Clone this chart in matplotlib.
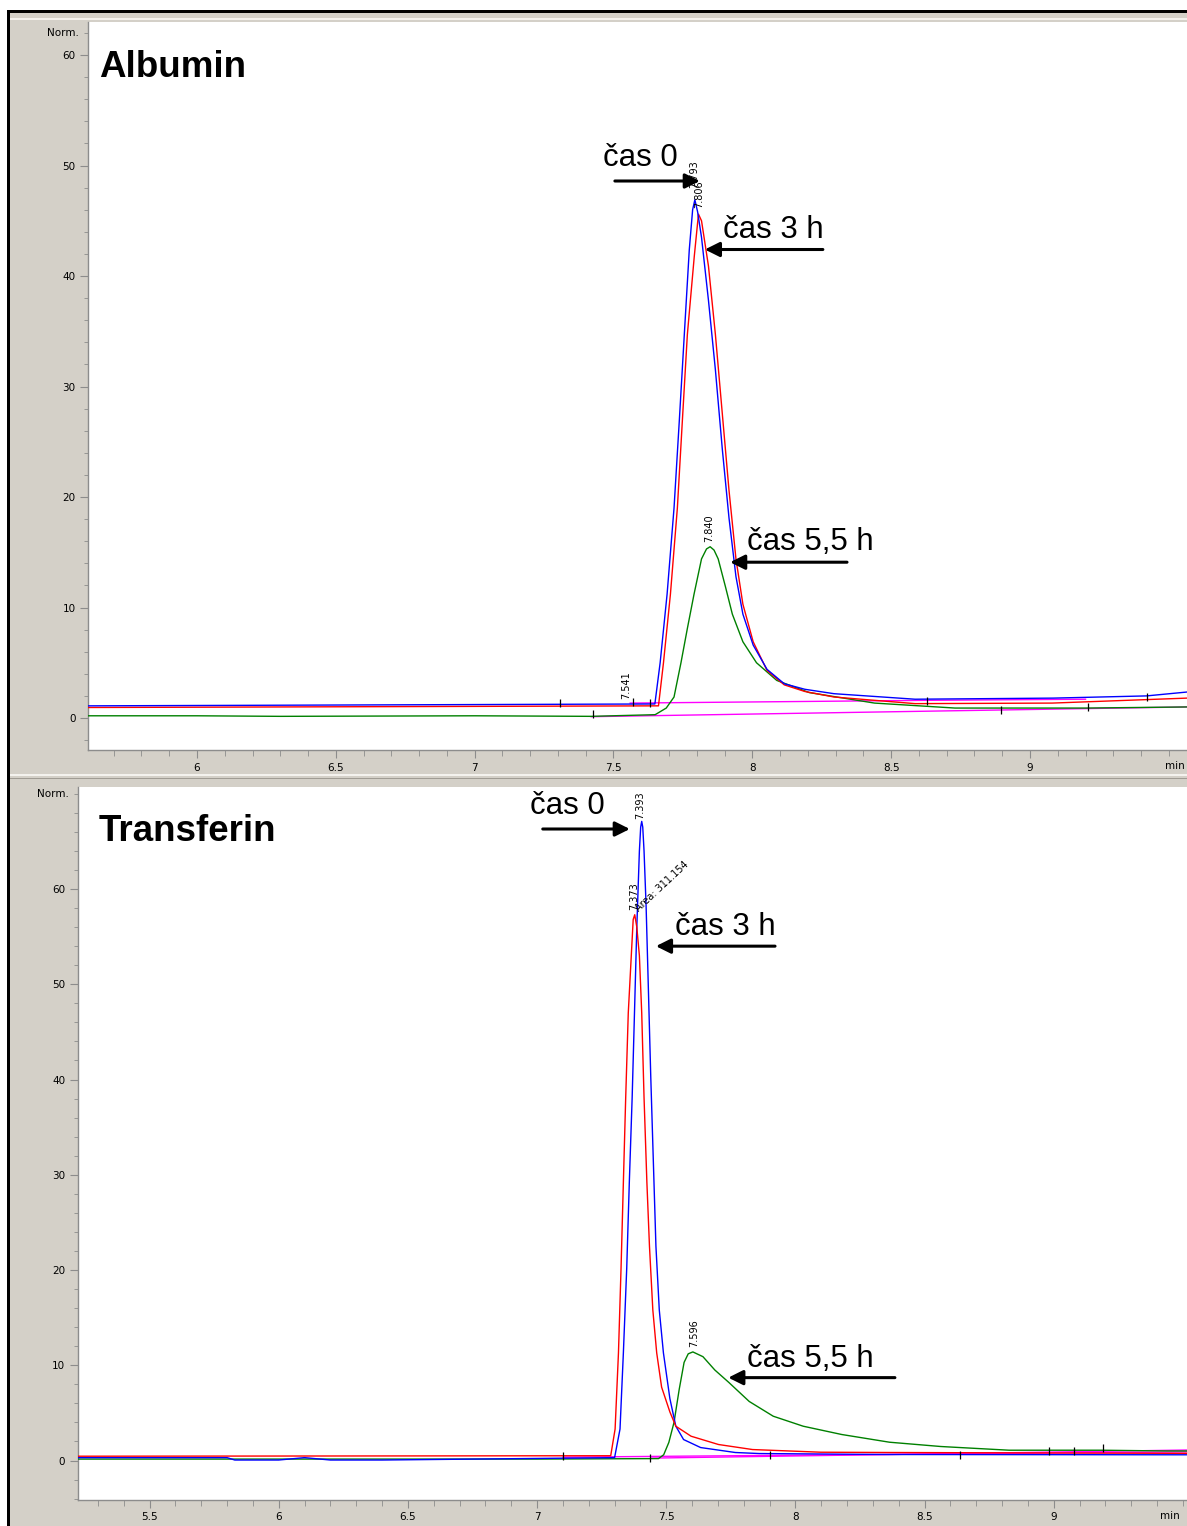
import numpy as np
import matplotlib
matplotlib.use('Agg')
import matplotlib.pyplot as plt
from matplotlib.patches import Rectangle
from matplotlib.ticker import MultipleLocator, FixedLocator

W, H = 1187, 1526
GRAY = '#d4d0c8'

# --- Albumin panel (top) ---
alb_ticks = [6, 6.5, 7, 7.5, 8, 8.5, 9]
alb_blue_x = [5.608, 7.649, 7.668, 7.693, 7.718, 7.737, 7.755, 7.773, 7.785, 7.793, 7.803, 7.817, 7.842,
              7.867, 7.892, 7.916, 7.941, 7.966, 8.003, 8.053, 8.115, 8.189, 8.294, 8.586, 9.083, 9.42, 9.565]
alb_blue_y = [1.1, 1.27, 5.0, 11.2, 19.0, 26.9, 34.7, 42.4, 46.0, 46.9, 45.8, 43.5, 37.8,
              31.5, 24.3, 18.1, 12.8, 9.4, 6.6, 4.4, 3.1, 2.6, 2.2, 1.7, 1.8, 2.0, 2.35]
alb_red_x = [5.608, 7.662, 7.68, 7.705, 7.73, 7.748, 7.766, 7.791, 7.806, 7.817, 7.842, 7.867, 7.892,
             7.916, 7.941, 7.966, 8.003, 8.053, 8.115, 8.189, 8.294, 8.586, 9.08, 9.565]
alb_red_y = [0.95, 1.1, 5.0, 11.2, 19.0, 26.9, 34.7, 41.8, 45.6, 45.0, 40.9, 34.7, 27.5,
             20.6, 14.4, 10.3, 6.9, 4.3, 3.0, 2.4, 1.9, 1.3, 1.35, 1.8]
alb_green_x = [5.608, 6.0, 6.3, 7.0, 7.42, 7.65, 7.69, 7.718, 7.743, 7.766, 7.79, 7.817, 7.835, 7.848,
               7.862, 7.877, 7.903, 7.928, 7.966, 8.015, 8.088, 8.205, 8.44, 8.73, 9.2, 9.565]
alb_green_y = [0.2, 0.2, 0.15, 0.2, 0.15, 0.3, 0.9, 1.9, 5.0, 8.1, 11.2, 14.4, 15.3, 15.5,
               15.2, 14.4, 11.9, 9.4, 6.9, 5.0, 3.4, 2.3, 1.35, 0.9, 0.9, 1.0]
alb_base1_x = [7.56, 8.63, 9.2]
alb_base1_y = [1.35, 1.6, 1.7]
alb_base2_x = [7.42, 9.565]
alb_base2_y = [0.12, 1.0]
alb_marks_x = [7.306, 7.425, 7.57, 7.63, 8.629, 8.896, 9.21, 9.42]
alb_marks_y = [1.36, 0.36, 1.45, 1.4, 1.54, 0.7, 1.0, 1.9]
# peak labels: text, x, y, rotation
alb_peaks = [('7.793', 7.790, 48.0, 90), ('7.806', 7.808, 46.2, 90),
             ('7.840', 7.844, 15.9, 90), ('7.541', 7.545, 1.7, 90)]
# annotations: text, text x, text y, arrow start x, arrow end x, arrow y
alb_notes = [('čas 0', 7.462, 50.7, 7.505, 7.811, 48.6),
             ('čas 3 h', 7.894, 44.2, 8.254, 7.829, 42.4),
             ('čas 5,5 h', 7.981, 15.9, 8.341, 7.920, 14.1)]

# --- Transferin panel (bottom) ---
tr_ticks = [5.5, 6, 6.5, 7, 7.5, 8, 8.5, 9]
tr_blue_x = [5.222, 5.8, 5.83, 6.0, 6.1, 6.2, 6.4, 7.30, 7.321, 7.334, 7.347, 7.357, 7.368, 7.377, 7.386,
             7.396, 7.401, 7.405, 7.409, 7.414, 7.422, 7.431, 7.44, 7.45, 7.46, 7.473, 7.489, 7.514, 7.537,
             7.567, 7.633, 7.767, 7.86, 8.36, 9.46, 9.515]
tr_blue_y = [0.3, 0.3, 0.05, 0.05, 0.3, 0.05, 0.05, 0.3, 3.3, 11.3, 20.2, 29.2, 38.1, 47.0, 56.0,
             64.0, 66.5, 67.1, 66.5, 64.0, 58.2, 49.3, 40.3, 31.4, 22.5, 15.8, 11.3, 6.5, 3.6,
             2.2, 1.36, 0.84, 0.73, 0.63, 0.6, 0.6]
tr_red_x = [5.222, 7.285, 7.302, 7.315, 7.325, 7.334, 7.343, 7.353, 7.366, 7.372, 7.378, 7.386, 7.396,
            7.405, 7.414, 7.425, 7.435, 7.448, 7.463, 7.482, 7.514, 7.537, 7.596, 7.702, 7.834,
            8.098, 8.36, 9.515]
tr_red_y = [0.45, 0.5, 3.3, 11.3, 20.2, 29.2, 38.1, 47.0, 53.7, 56.8, 57.3, 56.0, 53.0,
            47.0, 38.1, 29.2, 22.5, 15.8, 11.3, 7.7, 5.1, 3.6, 2.55, 1.68, 1.15,
            0.87, 0.84, 0.75]
tr_green_x = [5.222, 7.0, 7.47, 7.49, 7.51, 7.53, 7.55, 7.569, 7.585, 7.603, 7.642, 7.688, 7.742, 7.821,
              7.914, 8.03, 8.179, 8.364, 8.562, 8.827, 9.185, 9.436, 9.515]
tr_green_y = [0.15, 0.15, 0.2, 0.6, 1.9, 4.0, 7.45, 10.3, 11.2, 11.4, 10.9, 9.5, 8.2, 6.2,
              4.65, 3.6, 2.73, 1.92, 1.47, 1.08, 1.08, 1.0, 1.0]
tr_base1_x = [7.10, 9.515]
tr_base1_y = [0.35, 0.9]
tr_base2_x = [7.44, 9.515]
tr_base2_y = [0.25, 1.1]
tr_marks_x = [7.10, 7.437, 7.90, 8.635, 8.98, 9.08, 9.19]
tr_marks_y = [0.5, 0.3, 0.6, 0.55, 0.95, 0.95, 1.3]
tr_peaks = [('7.393', 7.399, 67.4, 90), ('7.373', 7.374, 57.8, 90),
            ('Area: 311.154', 7.398, 57.4, 43), ('7.596', 7.607, 11.9, 90)]
tr_notes = [('čas 0', 6.972, 68.7, 7.022, 7.359, 66.3),
            ('čas 3 h', 7.534, 56.0, 7.921, 7.460, 54.0),
            ('čas 5,5 h', 7.812, 10.7, 8.385, 7.740, 8.7)]

y_ticks = [0, 10, 20, 30, 40, 50, 60]


def frac(x0, y0, x1, y1):
    # pixel box (top-left origin) -> figure fraction [left, bottom, width, height]
    return [x0 / W, 1 - y1 / H, (x1 - x0) / W, (y1 - y0) / H]


fig = plt.figure(figsize=(W / 100, H / 100), dpi=100, facecolor=GRAY)

# window frame
for box, col in [((0, 0, W, 10), 'white'), ((0, 0, 7, H), 'white'),
                 ((7, 10, W, 13), 'black'), ((7, 10, 10, H), 'black'),
                 ((10, 18, W, 20), '#f4f2ee'), ((10, 774, W, 776), '#f4f2ee'),
                 ((10, 778, W, 779), '#a09c94')]:
    l, b, w, h = frac(*box)
    fig.patches.append(Rectangle((l, b), w, h, transform=fig.transFigure,
                                 facecolor=col, edgecolor='none', zorder=5))


def panel(rect, xlim, ylim, xticks, title, title_x, norm_y, curves, bases, marks, peaks, notes, min_x):
    ax = fig.add_axes(frac(*rect))
    ax.set_facecolor('white')
    for c, xs, ys in bases:
        ax.plot(xs, ys, color='#ff00ff', lw=1.0, zorder=2)
    for c, xs, ys in curves:
        ax.plot(xs, ys, color=c, lw=1.0, zorder=3)
    ax.plot(marks[0], marks[1], ls='none', marker='|', ms=6, mew=0.9, color='black', zorder=4)
    ax.set_xlim(*xlim)
    ax.set_ylim(*ylim)
    ax.xaxis.set_major_locator(FixedLocator(xticks))
    ax.xaxis.set_minor_locator(MultipleLocator(0.1))
    ax.yaxis.set_major_locator(FixedLocator(y_ticks))
    ax.yaxis.set_minor_locator(MultipleLocator(2))
    ax.xaxis.set_major_formatter(lambda v, p: f'{v:g}')
    ax.tick_params(which='both', direction='out', color='#8c8c8c', labelsize=7.5,
                   labelfontfamily='DejaVu Sans')
    ax.tick_params(axis='x', which='major', length=6, pad=3)
    ax.tick_params(axis='x', which='minor', length=4)
    ax.tick_params(axis='y', which='major', length=6, pad=3)
    ax.tick_params(axis='y', which='minor', length=3)
    for s in ['top', 'right']:
        ax.spines[s].set_visible(False)
    for s in ['left', 'bottom']:
        ax.spines[s].set_color('#8c8c8c')
        ax.spines[s].set_linewidth(1.0)
    ax.text(-0.008, norm_y, 'Norm.', transform=ax.get_yaxis_transform(), ha='right',
            va='center', fontsize=7.5, family='DejaVu Sans')
    ax.text(min_x, -0.022, 'min', transform=ax.get_xaxis_transform(), ha='left',
            va='center', fontsize=7.5, family='DejaVu Sans', clip_on=False)
    ax.text(title_x, 0.937, title, transform=ax.transAxes,
            fontsize=26.5, fontweight='bold', family='Liberation Sans', va='center')
    for txt, px, py, rot in peaks:
        ax.text(px, py, txt, rotation=rot, rotation_mode='anchor', ha='left',
                va='center' if rot == 90 else 'bottom', fontsize=7,
                family='DejaVu Sans', zorder=6)
    for txt, tx, ty, ax0, ax1, ay in notes:
        ax.text(tx, ty, txt, fontsize=22.5, family='Liberation Sans', va='center', ha='left')
        ax.annotate('', xy=(ax1, ay), xytext=(ax0, ay),
                    arrowprops=dict(arrowstyle='-|>', color='black', lw=2.2,
                                    mutation_scale=22, shrinkA=0, shrinkB=0))
    return ax


panel((88, 22, W, 750), (5.6075, 9.5654), (-2.896, 62.99), alb_ticks, 'Albumin', 0.010, 62,
      [('#008000', alb_green_x, alb_green_y), ('#ff0000', alb_red_x, alb_red_y),
       ('#0000ff', alb_blue_x, alb_blue_y)],
      [('m', alb_base1_x, alb_base1_y), ('m', alb_base2_x, alb_base2_y)],
      (alb_marks_x, alb_marks_y), alb_peaks, alb_notes, 9.486)

panel((77.7, 787, W, 1500), (5.222, 9.5155), (-4.147, 70.71), tr_ticks, 'Transferin', 0.0192, 70,
      [('#008000', tr_green_x, tr_green_y), ('#0000ff', tr_blue_x, tr_blue_y),
       ('#ff0000', tr_red_x, tr_red_y)],
      [('m', tr_base1_x, tr_base1_y), ('m', tr_base2_x, tr_base2_y)],
      (tr_marks_x, tr_marks_y), tr_peaks, tr_notes, 9.412)

fig.savefig('out.png', dpi=100, facecolor=GRAY)
